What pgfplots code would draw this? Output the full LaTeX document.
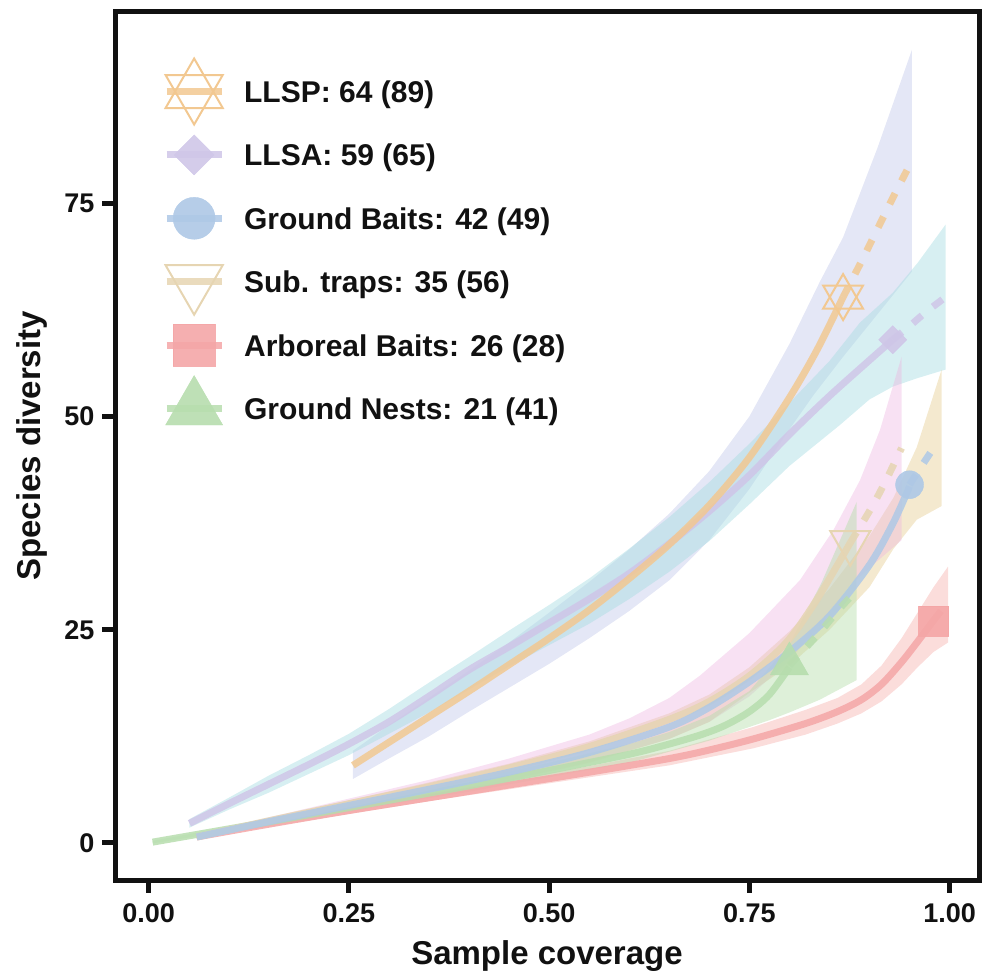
\documentclass[border=0pt]{standalone}
\usepackage{fontspec}
\setmainfont{Liberation Sans}
\usepackage{pgfplots}
\pgfplotsset{compat=1.18}

\definecolor{cLLSP}{HTML}{F2C891}
\definecolor{cLLSA}{HTML}{CFC6E8}
\definecolor{cGB}{HTML}{AEC8E6}
\definecolor{cST}{HTML}{E6D5B2}
\definecolor{cAB}{HTML}{F4A6A7}
\definecolor{cGN}{HTML}{B7DDAE}
\definecolor{bLLSP}{HTML}{C3C9EA}
\definecolor{bLLSA}{HTML}{A6DCE2}
\definecolor{bGB}{HTML}{E6CF95}
\definecolor{bST}{HTML}{EDB5E0}
\definecolor{bAB}{HTML}{F5A9A6}
\definecolor{bGN}{HTML}{B5DDAA}
\definecolor{ink}{HTML}{111111}

\begin{document}
\begin{tikzpicture}
\path[use as bounding box] (0,0) rectangle (984pt,976pt);
\begin{axis}[
  at={(115pt,96pt)}, anchor=south west,
  width=864pt, height=868pt, scale only axis,
  xmin=-0.042, xmax=1.0367, ymin=-4.34, ymax=97.42,
  xtick={0,0.25,0.5,0.75,1}, xticklabels={0.00,0.25,0.50,0.75,1.00},
  ytick={0,25,50,75}, yticklabels={0,25,50,75},
  tickpos=left, tick align=outside, major tick length=13pt,
  axis line style={line width=5pt, color=ink},
  every tick/.style={line width=5pt, ink},
  ticklabel style={font=\fontsize{27}{27}\selectfont\bfseries, text=ink},
  xticklabel style={yshift=-7pt},
  yticklabel style={xshift=-4pt},
  xlabel={Sample coverage}, ylabel={Species diversity},
  label style={font=\fontsize{33}{33}\selectfont\bfseries, text=ink},
  xlabel style={at={(axis description cs:0.5,-0.0968)}, anchor=base},
  ylabel style={at={(axis description cs:-0.0965,0.5)}, anchor=center, rotate=0},
  legend cell align=left,
  legend style={at={(0.0555,0.9213)}, anchor=north west, draw=none, fill=none,
    inner sep=0pt, row sep=41.4pt, font=\fontsize{30}{30}\selectfont\bfseries,
    text=ink,
    nodes={inner sep=0pt, text height=22pt, text depth=0pt},
    /tikz/every odd column/.append style={column sep=19pt}},
]

% ---------------- confidence bands ----------------
\addplot[fill=bLLSP, fill opacity=0.45, draw=none, forget plot] coordinates {
(0.255,10.8)(0.30,13.8)(0.35,17.0)(0.40,20.2)(0.45,23.5)(0.50,27.0)(0.55,30.6)(0.60,34.4)(0.65,38.6)(0.70,43.6)(0.75,50.0)(0.80,58.5)(0.838,65.8)(0.867,71.0)(0.91,81.5)(0.953,93.0)
(0.953,67.0)(0.91,62.0)(0.867,57.0)(0.83,52.5)(0.80,48.5)(0.75,41.5)(0.70,35.5)(0.65,30.8)(0.60,27.2)(0.55,24.0)(0.50,21.0)(0.45,18.2)(0.40,15.4)(0.35,12.5)(0.30,9.9)(0.255,7.5)
} -- cycle;

\addplot[fill=bLLSA, fill opacity=0.45, draw=none, forget plot] coordinates {
(0.051,2.8)(0.10,5.3)(0.15,7.9)(0.20,10.3)(0.25,12.8)(0.30,15.7)(0.35,18.8)(0.40,21.8)(0.45,24.9)(0.50,27.9)(0.55,31.0)(0.60,34.5)(0.65,38.2)(0.70,42.3)(0.75,46.8)(0.80,51.6)(0.85,56.5)(0.888,61.0)(0.929,64.5)(0.96,68.0)(0.995,72.5)
(0.995,55.5)(0.96,54.5)(0.929,53.5)(0.90,52.0)(0.863,49.0)(0.80,44.2)(0.75,39.7)(0.70,35.4)(0.65,31.8)(0.60,28.6)(0.55,25.7)(0.50,23.2)(0.45,20.7)(0.40,18.0)(0.35,15.3)(0.30,12.8)(0.25,10.3)(0.20,8.1)(0.15,5.9)(0.10,3.9)(0.051,1.8)
} -- cycle;

\addplot[fill=bGB, fill opacity=0.45, draw=none, forget plot] coordinates {
(0.06,0.9)(0.15,2.9)(0.25,5.0)(0.35,7.1)(0.45,9.3)(0.55,11.9)(0.65,15.2)(0.70,17.4)(0.75,20.6)(0.80,24.8)(0.85,29.8)(0.90,36.0)(0.93,40.5)(0.959,46.4)(0.99,55.5)
(0.99,39.5)(0.959,37.9)(0.93,34.5)(0.90,30.0)(0.85,25.0)(0.80,20.8)(0.75,17.6)(0.70,14.2)(0.65,12.2)(0.55,9.4)(0.45,7.3)(0.35,5.5)(0.25,3.8)(0.15,2.1)(0.06,0.5)
} -- cycle;

\addplot[fill=bST, fill opacity=0.4, draw=none, forget plot] coordinates {
(0.06,1.0)(0.15,3.0)(0.25,5.2)(0.35,7.4)(0.45,9.9)(0.55,12.7)(0.60,14.6)(0.65,17.0)(0.688,19.6)(0.75,24.6)(0.813,30.8)(0.855,36.7)(0.888,42.5)(0.913,48.4)(0.94,57.0)
(0.94,35.5)(0.913,33.3)(0.876,30.3)(0.84,25.8)(0.80,21.4)(0.75,17.2)(0.70,14.2)(0.65,12.2)(0.55,9.5)(0.45,7.4)(0.35,5.5)(0.25,3.9)(0.15,2.1)(0.06,0.5)
} -- cycle;

\addplot[fill=bAB, fill opacity=0.4, draw=none, forget plot] coordinates {
(0.06,0.9)(0.15,2.6)(0.25,4.2)(0.35,5.8)(0.45,7.4)(0.55,9.0)(0.65,10.8)(0.755,13.6)(0.82,15.6)(0.86,17.0)(0.89,18.6)(0.915,20.8)(0.94,24.0)(0.96,27.0)(0.98,30.0)(0.998,32.4)
(0.998,23.5)(0.98,22.4)(0.96,20.6)(0.94,18.6)(0.915,16.6)(0.89,15.2)(0.86,14.0)(0.82,12.7)(0.755,11.1)(0.65,9.1)(0.55,7.7)(0.45,6.3)(0.35,4.9)(0.25,3.4)(0.15,1.9)(0.06,0.5)
} -- cycle;

\addplot[fill=bGN, fill opacity=0.45, draw=none, forget plot] coordinates {
(0.005,0.25)(0.1,1.9)(0.2,3.7)(0.3,5.5)(0.4,7.4)(0.5,9.4)(0.6,11.6)(0.65,13.0)(0.7,14.9)(0.75,17.8)(0.80,23.3)(0.84,30.5)(0.884,40.0)
(0.884,19.1)(0.838,16.8)(0.80,15.3)(0.775,14.4)(0.7,12.0)(0.6,9.4)(0.5,7.7)(0.4,6.0)(0.3,4.5)(0.2,2.9)(0.1,1.4)(0.005,-0.05)
} -- cycle;

% ---------------- rarefaction (solid) ----------------
\addplot[cAB, line width=7pt, opacity=0.85, smooth, forget plot] coordinates {
(0.06,0.7)(0.15,2.2)(0.25,3.8)(0.35,5.3)(0.45,6.8)(0.55,8.3)(0.65,9.9)(0.70,10.9)(0.755,12.2)(0.82,14.0)(0.86,15.4)(0.89,16.8)(0.915,18.6)(0.94,21.2)(0.96,23.6)(0.98,26.1)};
\addplot[cGN, line width=7pt, opacity=0.85, smooth, forget plot] coordinates {
(0.005,0.1)(0.1,1.65)(0.2,3.3)(0.3,5.0)(0.4,6.7)(0.5,8.5)(0.6,10.4)(0.65,11.6)(0.69,12.7)(0.72,13.8)(0.75,15.4)(0.775,17.4)(0.80,20.6)};
\addplot[cST, line width=7pt, opacity=0.85, smooth, forget plot] coordinates {
(0.06,0.7)(0.15,2.6)(0.25,4.6)(0.35,6.6)(0.45,8.8)(0.55,11.3)(0.65,14.5)(0.70,16.6)(0.75,19.6)(0.797,23.6)(0.834,28.5)(0.876,35.2)};
\addplot[cGB, line width=7pt, opacity=0.85, smooth, forget plot] coordinates {
(0.06,0.7)(0.15,2.5)(0.25,4.4)(0.35,6.3)(0.45,8.3)(0.55,10.6)(0.65,13.6)(0.70,15.9)(0.75,18.9)(0.80,22.4)(0.85,26.6)(0.90,32.6)(0.93,37.6)(0.95,41.8)};
\addplot[cLLSA, line width=7pt, opacity=0.85, smooth, forget plot] coordinates {
(0.051,2.3)(0.10,4.6)(0.15,6.9)(0.20,9.2)(0.25,11.6)(0.30,14.2)(0.35,17.2)(0.40,20.3)(0.45,23.0)(0.50,25.8)(0.55,28.6)(0.60,31.6)(0.65,35.1)(0.70,38.9)(0.75,43.1)(0.80,47.9)(0.85,52.4)(0.90,56.6)(0.929,59.0)};
\addplot[cLLSP, line width=7pt, opacity=0.85, smooth, forget plot] coordinates {
(0.255,9.1)(0.30,11.8)(0.35,14.8)(0.40,17.8)(0.45,20.9)(0.50,24.0)(0.55,27.3)(0.60,31.0)(0.65,35.0)(0.70,39.6)(0.75,45.2)(0.80,52.2)(0.835,57.9)(0.867,64.0)};

% ---------------- extrapolation (dashed) ----------------
\addplot[cAB, line width=7pt, opacity=0.85, dash pattern=on 12pt off 14pt, forget plot] coordinates {(0.98,26.1)(0.99,27.3)(0.998,28.3)};
\addplot[cGN, line width=7pt, opacity=0.85, dash pattern=on 12pt off 14pt, smooth, forget plot] coordinates {(0.80,20.8)(0.838,24.7)(0.863,27.5)(0.884,29.6)};
\addplot[cST, line width=7pt, opacity=0.85, dash pattern=on 12pt off 14pt, smooth, forget plot] coordinates {(0.876,35.2)(0.903,39.4)(0.921,42.6)(0.94,46.3)};
\addplot[cGB, line width=7pt, opacity=0.85, dash pattern=on 12pt off 14pt, smooth, forget plot] coordinates {(0.95,42.0)(0.965,44.2)(0.985,47.0)};
\addplot[cLLSA, line width=7pt, opacity=0.85, dash pattern=on 12pt off 14pt, smooth, forget plot] coordinates {(0.929,59.0)(0.95,60.6)(0.97,62.2)(0.995,64.0)};
\addplot[cLLSP, line width=7pt, opacity=0.85, dash pattern=on 12pt off 14pt, smooth, forget plot] coordinates {(0.867,64.0)(0.89,68.2)(0.91,72.0)(0.93,75.8)(0.953,80.0)};

% ---------------- observed points ----------------
\addplot[only marks, mark=triangle, mark size=23pt, color=cLLSP, mark options={line width=2pt}, forget plot] coordinates {(0.867,64)};
\addplot[only marks, mark=triangle, mark size=23pt, color=cLLSP, mark options={line width=2pt, rotate=180}, forget plot] coordinates {(0.867,64)};
\addplot[only marks, mark=square*, mark size=10pt, color=cLLSA, mark options={rotate=45, opacity=0.9}, forget plot] coordinates {(0.929,59)};
\addplot[only marks, mark=*, mark size=14pt, color=cGB, mark options={opacity=0.9}, forget plot] coordinates {(0.95,42)};
\addplot[only marks, mark=triangle, mark size=23pt, color=cST, mark options={line width=2pt, rotate=180}, forget plot] coordinates {(0.876,35.2)};
\addplot[only marks, mark=square*, mark size=15pt, color=cAB, mark options={opacity=0.9}, forget plot] coordinates {(0.98,26)};
\addplot[only marks, mark=triangle*, mark size=22pt, color=cGN, mark options={opacity=0.9}, forget plot] coordinates {(0.80,21)};

% ---------------- legend ----------------
\addlegendimage{legend image code/.code={
  \draw[cLLSP, line width=7pt, opacity=0.85] (0pt,0pt) -- (55pt,0pt);
  \draw[overlay, cLLSP, line width=2pt] (27.5pt,33pt) -- (-1.08pt,-16.5pt) -- (56.08pt,-16.5pt) -- cycle;
  \draw[overlay, cLLSP, line width=2pt] (27.5pt,-33pt) -- (-1.08pt,16.5pt) -- (56.08pt,16.5pt) -- cycle;}}
\addlegendentry{LLSP: 64 (89)}
\addlegendimage{legend image code/.code={
  \draw[cLLSA, line width=7pt, opacity=0.85] (0pt,0pt) -- (55pt,0pt);
  \fill[overlay, cLLSA, opacity=0.9] (27.5pt,20pt) -- (47.5pt,0pt) -- (27.5pt,-20pt) -- (7.5pt,0pt) -- cycle;}}
\addlegendentry{LLSA: 59 (65)}
\addlegendimage{legend image code/.code={
  \draw[cGB, line width=7pt, opacity=0.85] (0pt,0pt) -- (55pt,0pt);
  \fill[overlay, cGB, opacity=0.9] (27.5pt,0pt) circle[radius=21pt];}}
\addlegendentry{Ground Baits: 42 (49)}
\addlegendimage{legend image code/.code={
  \draw[cST, line width=7pt, opacity=0.85] (0pt,0pt) -- (55pt,0pt);
  \draw[overlay, cST, line width=2pt] (27.5pt,-33pt) -- (-1.08pt,16.5pt) -- (56.08pt,16.5pt) -- cycle;}}
\addlegendentry{Sub. traps: 35 (56)}
\addlegendimage{legend image code/.code={
  \draw[cAB, line width=7pt, opacity=0.85] (0pt,0pt) -- (55pt,0pt);
  \fill[overlay, cAB, opacity=0.9] (6.5pt,-21pt) rectangle (48.5pt,21pt);}}
\addlegendentry{Arboreal Baits: 26 (28)}
\addlegendimage{legend image code/.code={
  \draw[cGN, line width=7pt, opacity=0.85] (0pt,0pt) -- (55pt,0pt);
  \fill[overlay, cGN, opacity=0.9] (27.5pt,33pt) -- (-1.08pt,-16.5pt) -- (56.08pt,-16.5pt) -- cycle;}}
\addlegendentry{Ground Nests: 21 (41)}

\end{axis}
\end{tikzpicture}
\end{document}
